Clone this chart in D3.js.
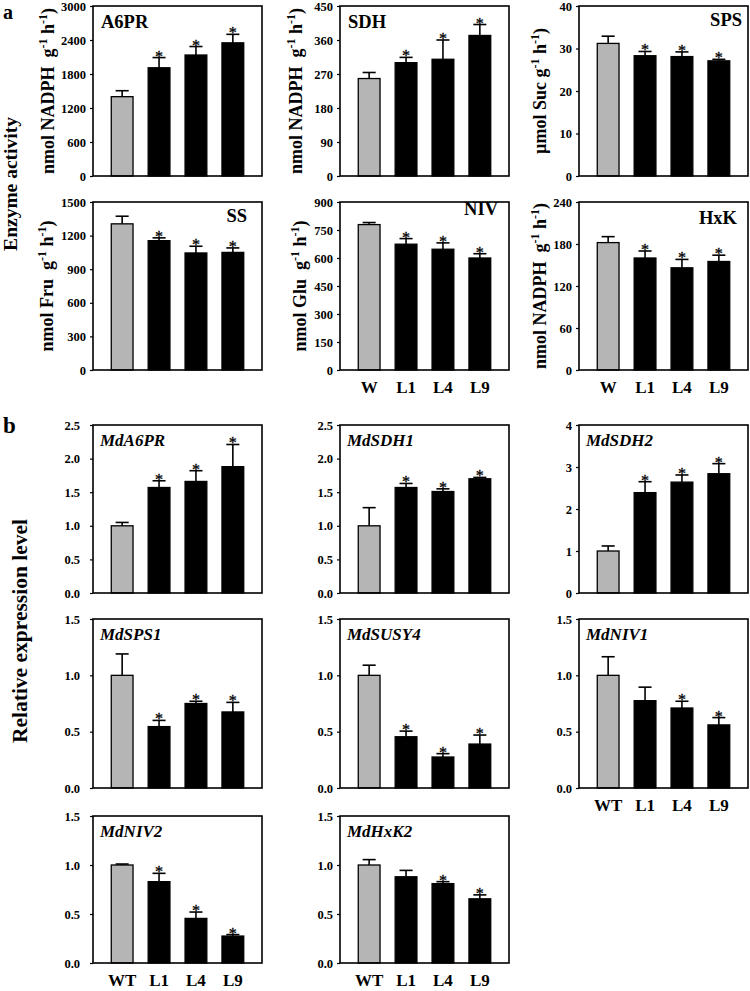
<!DOCTYPE html>
<html>
<head>
<meta charset="utf-8">
<script src="https://cdn.jsdelivr.net/npm/d3@7"></script>
<style>
  body { margin: 0; background: #fff; }
  svg { display: block; }
  text { font-family: "Liberation Serif", "Times New Roman", serif; font-weight: bold; fill: #000; }
</style>
</head>
<body>
<svg width="750" height="991"></svg>
<script>
// ---- data ----
const groupsA = ["W", "L1", "L4", "L9"];
const groupsB = ["WT", "L1", "L4", "L9"];

// panel a: enzyme activities
const a6prMean = [1400, 1910, 2135, 2350], a6prErr = [105, 180, 150, 150], a6prSig = [0, 1, 1, 1];
const sdhMean = [258, 300, 309, 372], sdhErr = [16, 14, 51, 29], sdhSig = [0, 1, 1, 1];
const spsMean = [31.2, 28.3, 28.1, 27.1], spsErr = [1.7, 1.0, 1.1, 0.35], spsSig = [0, 1, 1, 1];
const ssMean = [1305, 1155, 1045, 1050], ssErr = [68, 25, 60, 40], ssSig = [0, 1, 1, 1];
const nivMean = [779, 674, 647, 600], nivErr = [11, 30, 34, 23], nivSig = [0, 1, 1, 1];
const hxkMean = [182, 160, 146, 155], hxkErr = [8.5, 10, 12, 9], hxkSig = [0, 1, 1, 1];

// panel b: relative expression
const mdA6prMean = [1.0, 1.57, 1.66, 1.88], mdA6prErr = [0.05, 0.10, 0.16, 0.33], mdA6prSig = [0, 1, 1, 1];
const mdSdh1Mean = [1.0, 1.57, 1.51, 1.70], mdSdh1Err = [0.27, 0.06, 0.04, 0.02], mdSdh1Sig = [0, 1, 1, 1];
const mdSdh2Mean = [1.0, 2.39, 2.64, 2.84], mdSdh2Err = [0.12, 0.26, 0.17, 0.24], mdSdh2Sig = [0, 1, 1, 1];
const mdSps1Mean = [1.0, 0.545, 0.75, 0.675], mdSps1Err = [0.19, 0.055, 0.02, 0.085], mdSps1Sig = [0, 1, 1, 1];
const mdSusy4Mean = [1.0, 0.455, 0.275, 0.39], mdSusy4Err = [0.09, 0.05, 0.03, 0.08], mdSusy4Sig = [0, 1, 1, 1];
const mdNiv1Mean = [1.0, 0.775, 0.71, 0.56], mdNiv1Err = [0.165, 0.12, 0.06, 0.065], mdNiv1Sig = [0, 0, 1, 1];
const mdNiv2Mean = [1.0, 0.83, 0.455, 0.275], mdNiv2Err = [0.01, 0.085, 0.065, 0.015], mdNiv2Sig = [0, 1, 1, 1];
const mdHxk2Mean = [1.0, 0.88, 0.81, 0.655], mdHxk2Err = [0.055, 0.065, 0.02, 0.04], mdHxk2Sig = [0, 0, 1, 1];

// tick values and labels
const ticksA6pr = [0, 600, 1200, 1800, 2400, 3000];
const ticksSdh = [0, 90, 180, 270, 360, 450];
const ticksSps = [0, 10, 20, 30, 40];
const ticksSs = [0, 300, 600, 900, 1200, 1500];
const ticksNiv = [0, 150, 300, 450, 600, 750, 900];
const ticksHxk = [0, 60, 120, 180, 240];
const ticks25 = [0, 0.5, 1.0, 1.5, 2.0, 2.5];
const ticks25Labels = ["0.0", "0.5", "1.0", "1.5", "2.0", "2.5"];
const ticks4 = [0, 1, 2, 3, 4];
const ticks15 = [0, 0.5, 1.0, 1.5];
const ticks15Labels = ["0.0", "0.5", "1.0", "1.5"];

// axis unit labels: [text, superscript, text, superscript, text]
const unitNadph = ["nmol NADPH\u00a0\u00a0g", "-1", "\u00a0h", "-1", ")"];
const unitSuc = ["\u00b5mol Suc\u00a0g", "-1", "\u00a0h", "-1", ")"];
const unitFru = ["nmol Fru\u00a0\u00a0g", "-1", "\u00a0h", "-1", ")"];
const unitGlu = ["nmol Glu\u00a0\u00a0g", "-1", "\u00a0h", "-1", ")"];

// ---- layout ----
const colX = [93, 340, 579];
const boxW = 169;
const rowY = [[6, 176], [202, 370], [425, 593], [619, 788], [816, 963]];

const panels = [
  {title: "A6PR", col: 0, row: 0, mean: a6prMean, err: a6prErr, sig: a6prSig, ticks: ticksA6pr, unit: unitNadph, ux: -39, tAnchor: "start", tx: 8, ty: 22},
  {title: "SDH", col: 1, row: 0, mean: sdhMean, err: sdhErr, sig: sdhSig, ticks: ticksSdh, unit: unitNadph, ux: -38, tAnchor: "start", tx: 8, ty: 22},
  {title: "SPS", col: 2, row: 0, mean: spsMean, err: spsErr, sig: spsSig, ticks: ticksSps, unit: unitSuc, ux: -33, tAnchor: "end", tx: -6, ty: 20},
  {title: "SS", col: 0, row: 1, mean: ssMean, err: ssErr, sig: ssSig, ticks: ticksSs, unit: unitFru, ux: -40, tAnchor: "end", tx: -15, ty: 20},
  {title: "NIV", col: 1, row: 1, mean: nivMean, err: nivErr, sig: nivSig, ticks: ticksNiv, unit: unitGlu, ux: -34, tAnchor: "end", tx: -11, ty: 13, xlab: groupsA},
  {title: "HxK", col: 2, row: 1, mean: hxkMean, err: hxkErr, sig: hxkSig, ticks: ticksHxk, unit: unitNadph, ux: -33, tAnchor: "end", tx: -11, ty: 22, xlab: groupsA},
  {title: "MdA6PR", col: 0, row: 2, mean: mdA6prMean, err: mdA6prErr, sig: mdA6prSig, ticks: ticks25, labels: ticks25Labels, italic: true, pad: 10},
  {title: "MdSDH1", col: 1, row: 2, mean: mdSdh1Mean, err: mdSdh1Err, sig: mdSdh1Sig, ticks: ticks25, labels: ticks25Labels, italic: true},
  {title: "MdSDH2", col: 2, row: 2, mean: mdSdh2Mean, err: mdSdh2Err, sig: mdSdh2Sig, ticks: ticks4, italic: true},
  {title: "MdSPS1", col: 0, row: 3, mean: mdSps1Mean, err: mdSps1Err, sig: mdSps1Sig, ticks: ticks15, labels: ticks15Labels, italic: true, pad: 10},
  {title: "MdSUSY4", col: 1, row: 3, mean: mdSusy4Mean, err: mdSusy4Err, sig: mdSusy4Sig, ticks: ticks15, labels: ticks15Labels, italic: true},
  {title: "MdNIV1", col: 2, row: 3, mean: mdNiv1Mean, err: mdNiv1Err, sig: mdNiv1Sig, ticks: ticks15, labels: ticks15Labels, italic: true, xlab: groupsB},
  {title: "MdNIV2", col: 0, row: 4, mean: mdNiv2Mean, err: mdNiv2Err, sig: mdNiv2Sig, ticks: ticks15, labels: ticks15Labels, italic: true, pad: 10, xlab: groupsB},
  {title: "MdHxK2", col: 1, row: 4, mean: mdHxk2Mean, err: mdHxk2Err, sig: mdHxk2Sig, ticks: ticks15, labels: ticks15Labels, italic: true, xlab: groupsB}
];

const svg = d3.select("svg");

function drawPanel(p) {
  const [y0, y1] = rowY[p.row];
  const w = boxW, h = y1 - y0;
  const g = svg.append("g").attr("transform", `translate(${colX[p.col]},${y0})`);

  const x = d3.scaleBand().domain([0, 1, 2, 3]).range([0, w])
    .paddingInner(0.41).paddingOuter(0.495);
  const y = d3.scaleLinear().domain([0, d3.max(p.ticks)]).range([h, 0]);

  // y axis
  const ax = g.append("g")
    .call(d3.axisLeft(y).tickValues(p.ticks)
      .tickFormat((d, i) => p.labels ? p.labels[i] : d)
      .tickSize(3).tickPadding(p.pad || 4));
  ax.attr("font-family", null).attr("font-size", null);
  ax.select(".domain").remove();
  ax.selectAll(".tick line").attr("stroke", "#000").attr("stroke-width", 1.2);
  ax.selectAll(".tick text").style("font-size", "12.5px");

  const idx = d3.range(p.mean.length);
  const bw = x.bandwidth();

  // bars
  g.selectAll("rect.bar").data(idx).enter().append("rect")
    .attr("class", "bar")
    .attr("x", i => x(i))
    .attr("y", i => y(p.mean[i]))
    .attr("width", bw)
    .attr("height", i => h - y(p.mean[i]))
    .attr("fill", i => i === 0 ? "#b5b5b5" : "#000")
    .attr("stroke", "#000").attr("stroke-width", 1.3);

  // error bars (upper only)
  g.selectAll("line.err").data(idx).enter().append("line")
    .attr("class", "err")
    .attr("x1", i => x(i) + bw / 2).attr("x2", i => x(i) + bw / 2)
    .attr("y1", i => y(p.mean[i])).attr("y2", i => y(p.mean[i] + p.err[i]))
    .attr("stroke", "#000").attr("stroke-width", 1.6);
  g.selectAll("line.cap").data(idx).enter().append("line")
    .attr("class", "cap")
    .attr("x1", i => x(i) + bw * 0.2).attr("x2", i => x(i) + bw * 0.8)
    .attr("y1", i => y(p.mean[i] + p.err[i])).attr("y2", i => y(p.mean[i] + p.err[i]))
    .attr("stroke", "#000").attr("stroke-width", 1.6);

  // significance asterisks
  g.selectAll("text.sig").data(idx.filter(i => p.sig[i])).enter().append("text")
    .attr("class", "sig")
    .attr("x", i => x(i) + bw / 2)
    .attr("y", i => y(p.mean[i] + p.err[i]) + 4)
    .attr("text-anchor", "middle")
    .attr("stroke", "#000").attr("stroke-width", 0.3)
    .style("font-size", "16px").style("font-weight", "normal")
    .text("*");

  // frame
  g.append("rect").attr("width", w).attr("height", h)
    .attr("fill", "none").attr("stroke", "#000").attr("stroke-width", 1.6);

  // panel title
  const anchor = p.tAnchor || "start";
  g.append("text")
    .attr("x", anchor === "end" ? w + p.tx : (p.tx !== undefined ? p.tx : 7))
    .attr("y", p.ty !== undefined ? p.ty : 21)
    .attr("text-anchor", anchor)
    .style("font-size", p.italic ? "17px" : "18.5px")
    .style("font-style", p.italic ? "italic" : "normal")
    .text(p.title);

  // x labels
  if (p.xlab) {
    g.selectAll("text.xl").data(idx).enter().append("text")
      .attr("class", "xl")
      .attr("x", i => x(i) + bw / 2)
      .attr("y", h + 23)
      .attr("text-anchor", "middle")
      .style("font-size", "17px")
      .text(i => p.xlab[i]);
  }

  // unit label
  if (p.unit) {
    const t = g.append("text")
      .attr("transform", `translate(${p.ux},${h / 2}) rotate(-90)`)
      .attr("text-anchor", "middle")
      .style("font-size", "18px");
    p.unit.forEach((s, k) => {
      const sup = k % 2 === 1;
      t.append("tspan")
        .attr("dy", sup ? -7 : (k > 0 ? 7 : 0))
        .style("font-size", sup ? "12px" : "18px")
        .text(s);
    });
  }
}

panels.forEach(drawPanel);

// figure letters and shared titles
svg.append("text").attr("x", 3).attr("y", 19).style("font-size", "20px").text("a");
svg.append("text").attr("x", 3).attr("y", 433).style("font-size", "23px").text("b");

svg.append("text")
  .attr("transform", "translate(17,184) rotate(-90)")
  .attr("text-anchor", "middle")
  .style("font-size", "19.5px")
  .text("Enzyme activity");

svg.append("text")
  .attr("transform", "translate(27,631) rotate(-90)")
  .attr("text-anchor", "middle")
  .style("font-size", "21.5px")
  .text("Relative expression level");
</script>
</body>
</html>
